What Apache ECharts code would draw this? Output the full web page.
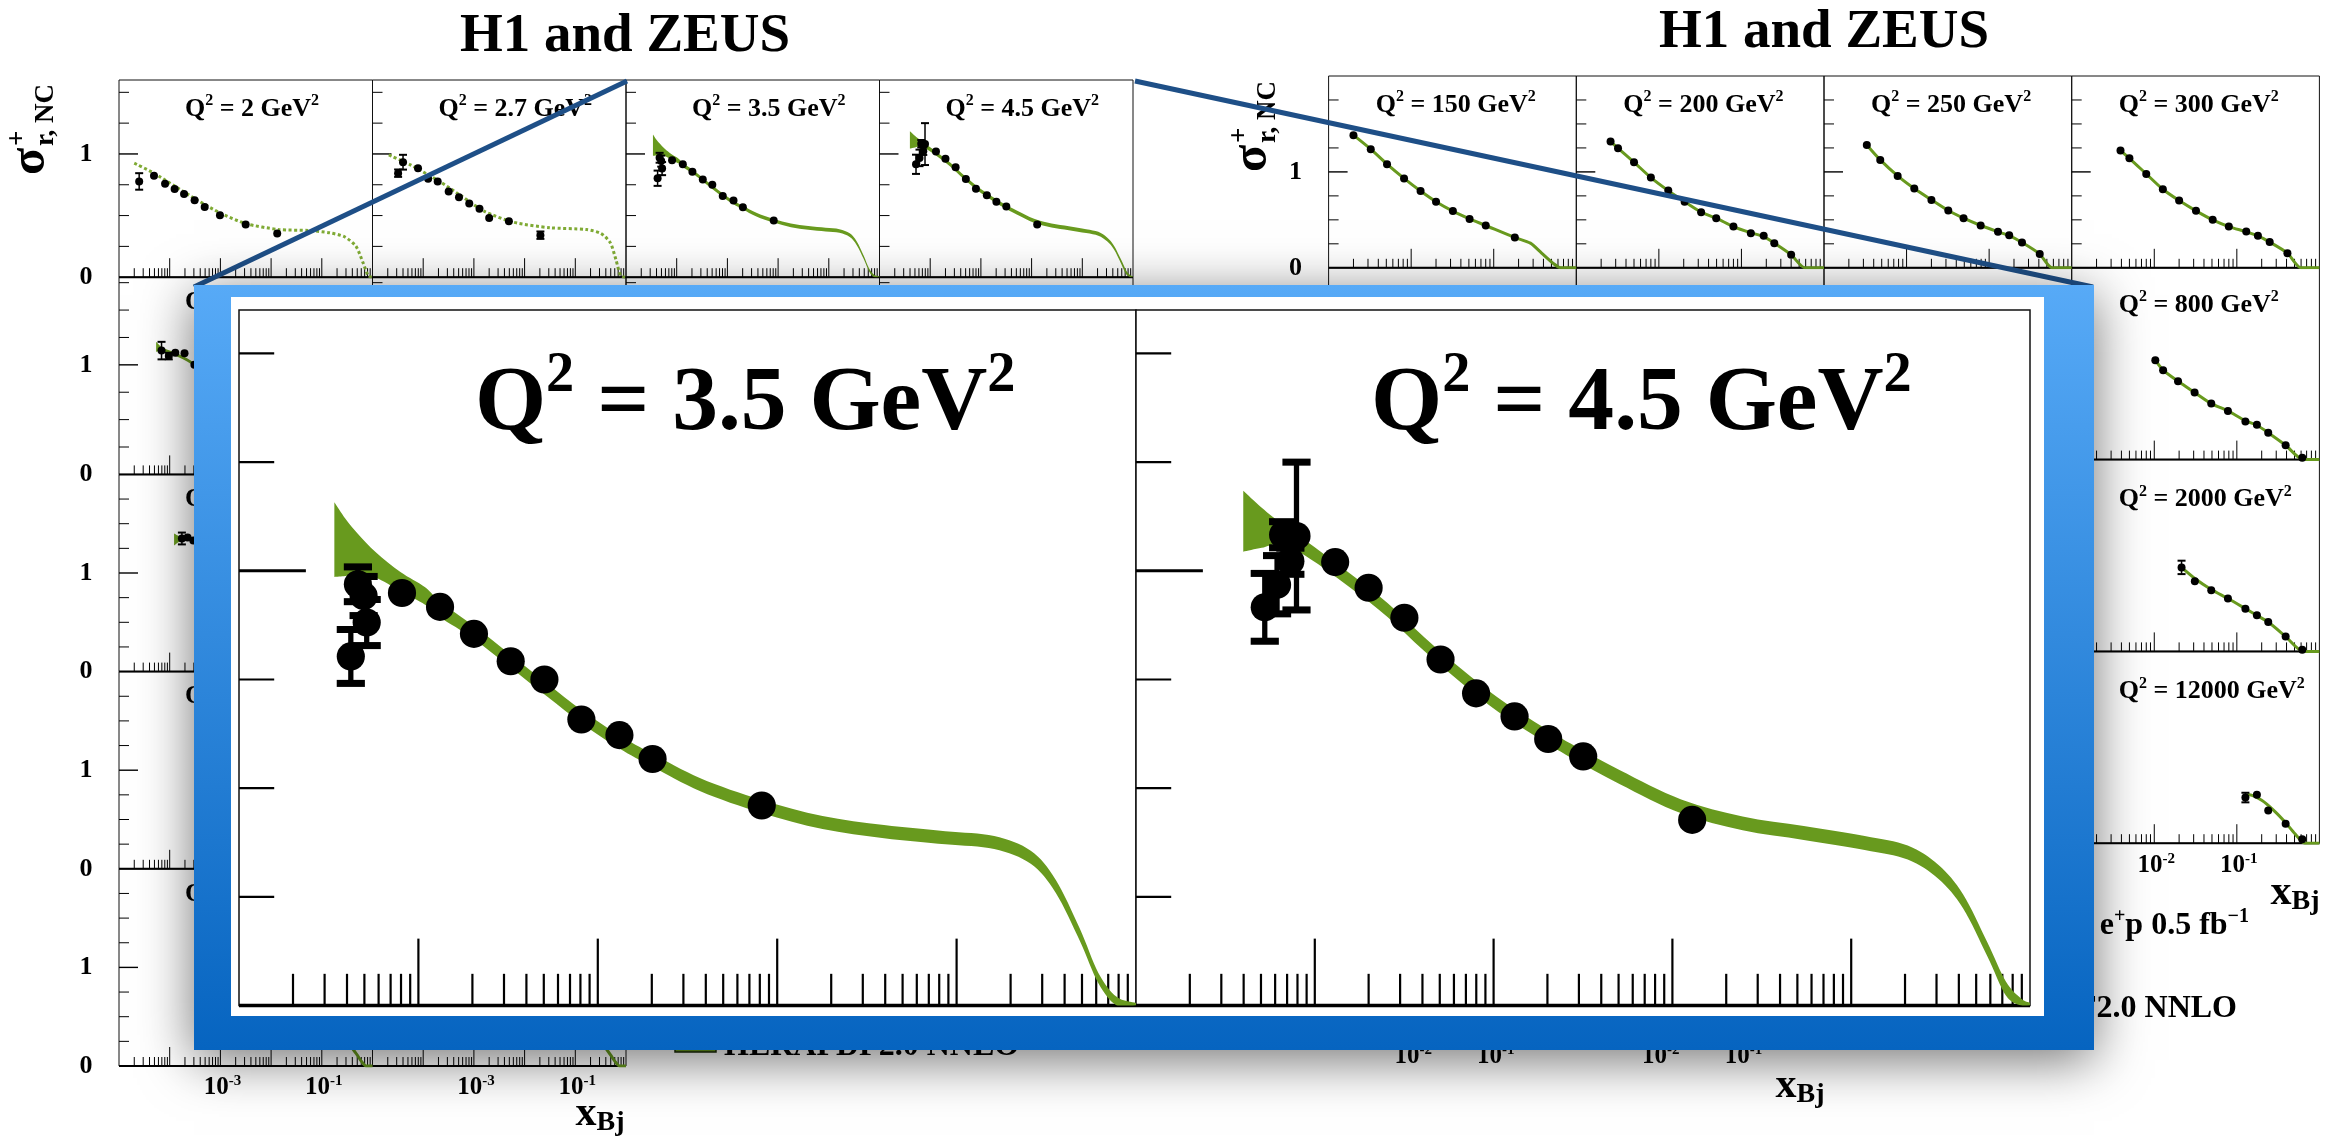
<!DOCTYPE html>
<html>
<head>
<meta charset="utf-8">
<script src="https://cdn.jsdelivr.net/npm/echarts@6/dist/echarts.min.js"></script>
<style>
  html, body { margin: 0; padding: 0; background: #fff; }
  #chart { width: 2332px; height: 1145px; }
</style>
</head>
<body>
<div id="chart"></div>
<script>
// ---------------------------------------------------------------
// Reduced NC e+p cross sections, H1 and ZEUS combined, with the
// HERAPDF2.0 NNLO prediction. Two grids of Q² bins (low / high Q²)
// and an enlarged view of the Q² = 3.5 and 4.5 GeV² bins.
// ---------------------------------------------------------------

// Q² bins (GeV²), row by row, four per row
const lowQ2Bins  = ['2', '2.7', '3.5', '4.5', '6.5', '8.5', '10', '12', '15', '18', '22', '27', '35', '45', '60', '70', '90', '120'];
const highQ2Bins = ['150', '200', '250', '300', '400', '500', '650', '800', '1000', '1200', '1500', '2000', '3000', '5000', '8000', '12000', '20000', '30000'];

// axis ticks and tick labels
const tickMultipliers   = [1, 2, 3, 4, 5, 6, 7, 8, 9];
const lowDecades        = [-5, -4, -3, -2, -1];
const highDecades       = [-3, -2, -1];
const yMinorTickValues  = [0.25, 0.5, 0.75, 1.25, 1.5, 1.75];
const yMajorTickValues  = [1];
const yLabelValues      = [0, 1];
const yLabelTexts       = ['0', '1'];
const lowXLabelValues   = [1e-3, 1e-1];
const lowXLabelExps     = ['-3', '-1'];
const highXLabelValues  = [1e-2, 1e-1];
const highXLabelExps    = ['-2', '-1'];

// ---- low Q² measurements (x_Bj, sigma_r, error) and HERAPDF curves ----
const q2_2_x   = [2.5e-5, 4.9e-5, 8.1e-5, 1.25e-4, 1.92e-4, 3.1e-4, 4.9e-4, 9.8e-4, 3.15e-3, 1.32e-2];
const q2_2_y   = [0.777, 0.823, 0.758, 0.715, 0.675, 0.624, 0.570, 0.503, 0.427, 0.355];
const q2_2_err = [0.067, 0, 0, 0, 0, 0, 0, 0, 0, 0];
const q2_2_fitX = [2.0e-5, 4.9e-5, 1.29e-4, 3.39e-4, 9.8e-4, 3.16e-3, 1.41e-2, 5.4e-2, 0.145, 0.28, 0.47, 0.65, 0.83, 1];
const q2_2_fitY = [0.925, 0.844, 0.736, 0.629, 0.522, 0.435, 0.387, 0.379, 0.360, 0.328, 0.252, 0.118, 0.01, 0];

const q2_2p7_x   = [3.2e-5, 4.0e-5, 7.9e-5, 1.25e-4, 1.93e-4, 3.18e-4, 5.08e-4, 8.1e-4, 1.29e-3, 2.0e-3, 4.9e-3, 2.05e-2];
const q2_2p7_y   = [0.844, 0.933, 0.884, 0.798, 0.777, 0.696, 0.648, 0.597, 0.556, 0.481, 0.454, 0.341];
const q2_2p7_err = [0.03, 0.06, 0, 0, 0, 0, 0, 0, 0, 0, 0, 0.03];
const q2_2p7_fitX = [2.1e-5, 5.6e-5, 2.1e-4, 5.8e-4, 1.6e-3, 6.0e-3, 3.2e-2, 0.166, 0.32, 0.49, 0.63, 0.79, 1];
const q2_2p7_fitY = [0.992, 0.911, 0.777, 0.656, 0.535, 0.446, 0.401, 0.387, 0.355, 0.28, 0.145, 0.01, 0];

const q2_3p5_x   = [4.2e-5, 4.6e-5, 4.95e-5, 5.15e-5, 8.1e-5, 1.32e-4, 2.04e-4, 3.27e-4, 5.04e-4, 8.1e-4, 1.32e-3, 2.02e-3, 8.2e-3];
const q2_3p5_y   = [0.803, 0.969, 0.942, 0.881, 0.949, 0.917, 0.855, 0.792, 0.750, 0.658, 0.622, 0.567, 0.460];
const q2_3p5_err = [0.062, 0.04, 0.045, 0.053, 0, 0, 0, 0, 0, 0, 0, 0, 0];
const q2_3p5_fitX  = [3.40e-5, 3.92e-5, 4.58e-5, 5.81e-5, 7.94e-5, 1.09e-4, 1.32e-4, 2.04e-4, 3.27e-4, 5.24e-4, 8.13e-4, 1.32e-3, 2.02e-3, 3.73e-3, 8.18e-3, 1.79e-2, 3.94e-2, 8.65e-2, 0.162, 0.259, 0.356, 0.486, 0.617, 0.78, 1];
const q2_3p5_fitHi = [1.158, 1.12, 1.086, 1.042, 0.997, 0.962, 0.929, 0.873, 0.807, 0.740, 0.679, 0.621, 0.579, 0.523, 0.473, 0.436, 0.415, 0.401, 0.390, 0.356, 0.290, 0.177, 0.075, 0.02, 0.006];
const q2_3p5_fitLo = [0.986, 0.988, 0.992, 0.984, 0.953, 0.922, 0.893, 0.843, 0.777, 0.710, 0.649, 0.591, 0.549, 0.493, 0.443, 0.406, 0.385, 0.371, 0.360, 0.326, 0.260, 0.149, 0.051, 0.0, 0.0];

const q2_4p5_x   = [5.25e-5, 6.15e-5, 6.65e-5, 7.3e-5, 7.9e-5, 1.3e-4, 2.0e-4, 3.17e-4, 5.05e-4, 7.98e-4, 1.31e-3, 2.02e-3, 3.17e-3, 1.29e-2];
const q2_4p5_y   = [0.916, 0.968, 1.083, 1.022, 1.080, 1.020, 0.961, 0.892, 0.796, 0.718, 0.665, 0.613, 0.573, 0.427];
const q2_4p5_err = [0.078, 0.067, 0.03, 0.03, 0.17, 0, 0, 0, 0, 0, 0, 0, 0, 0];
const q2_4p5_fitX  = [3.98e-5, 5.05e-5, 6.65e-5, 9.86e-5, 1.58e-4, 2.55e-4, 4.08e-4, 6.56e-4, 1.05e-3, 1.69e-3, 2.71e-3, 5.09e-3, 1.12e-2, 2.47e-2, 5.43e-2, 0.119, 0.207, 0.308, 0.422, 0.578, 0.733, 0.891, 1];
const q2_4p5_fitHi = [1.184, 1.145, 1.106, 1.056, 0.993, 0.926, 0.848, 0.775, 0.709, 0.653, 0.602, 0.541, 0.474, 0.435, 0.413, 0.390, 0.368, 0.323, 0.256, 0.145, 0.055, 0.016, 0.006];
const q2_4p5_fitLo = [1.044, 1.053, 1.061, 1.022, 0.961, 0.894, 0.816, 0.743, 0.677, 0.621, 0.570, 0.509, 0.442, 0.403, 0.381, 0.358, 0.336, 0.291, 0.224, 0.113, 0.023, 0.0, 0.0];

const q2_6p5_x   = [6.9e-5, 9.6e-5, 1.29e-4, 1.96e-4, 3.07e-4];
const q2_6p5_y   = [1.13, 1.08, 1.11, 1.106, 1.0];
const q2_6p5_err = [0.08, 0.03, 0, 0, 0];
const q2_6p5_fitX  = [5.4e-5, 7.0e-5, 1.0e-4, 1.5e-4, 2.2e-4, 3.2e-4, 5.0e-4];
const q2_6p5_fitHi = [1.21, 1.16, 1.13, 1.10, 1.06, 1.01, 0.95];
const q2_6p5_fitLo = [1.12, 1.12, 1.10, 1.07, 1.03, 0.98, 0.92];

const q2_15_x   = [1.74e-4, 2.25e-4, 2.92e-4];
const q2_15_y   = [1.35, 1.36, 1.33];
const q2_15_err = [0.06, 0, 0];
const q2_15_fitX  = [1.22e-4, 1.6e-4, 2.2e-4, 3.2e-4, 5.0e-4];
const q2_15_fitHi = [1.40, 1.37, 1.37, 1.35, 1.31];
const q2_15_fitLo = [1.28, 1.32, 1.33, 1.31, 1.27];

const q2_90_fitX  = [0.3, 0.39, 0.5, 0.62, 0.75, 1];
const q2_90_fitY  = [0.27, 0.19, 0.11, 0.04, 0.0, 0];
const q2_120_fitX = [0.3, 0.39, 0.5, 0.62, 0.75, 1];
const q2_120_fitY = [0.27, 0.19, 0.11, 0.04, 0.0, 0];

// ---- high Q² measurements and HERAPDF curves ----
const q2_150_x = [2.0e-3, 3.24e-3, 5.1e-3, 8.2e-3, 1.3e-2, 2.0e-2, 3.2e-2, 5.1e-2, 8.0e-2, 0.18];
const q2_150_y = [1.383, 1.237, 1.081, 0.932, 0.80, 0.689, 0.591, 0.51, 0.441, 0.316];
const q2_150_fitX = [2.0e-3, 3.24e-3, 5.1e-3, 8.2e-3, 1.3e-2, 2.0e-2, 3.2e-2, 5.1e-2, 8.0e-2, 0.18, 0.278, 0.38, 0.52, 0.645, 1];
const q2_150_fitY = [1.383, 1.237, 1.081, 0.932, 0.80, 0.689, 0.591, 0.51, 0.441, 0.316, 0.257, 0.153, 0.049, 0.0, 0];

const q2_200_x = [2.6e-3, 3.2e-3, 5.0e-3, 8.0e-3, 1.3e-2, 2.05e-2, 3.25e-2, 4.95e-2, 8.0e-2, 0.13, 0.186, 0.25, 0.40];
const q2_200_y = [1.316, 1.247, 1.101, 0.941, 0.805, 0.690, 0.58, 0.517, 0.43, 0.361, 0.333, 0.257, 0.135];
const q2_200_fitX = [2.6e-3, 3.2e-3, 5.0e-3, 8.0e-3, 1.3e-2, 2.05e-2, 3.25e-2, 4.95e-2, 8.0e-2, 0.13, 0.186, 0.25, 0.40, 0.59, 1];
const q2_200_fitY = [1.316, 1.247, 1.101, 0.941, 0.805, 0.690, 0.58, 0.517, 0.43, 0.365, 0.325, 0.257, 0.135, 0.0, 0];

const q2_250_x = [3.3e-3, 4.8e-3, 7.8e-3, 1.24e-2, 2.0e-2, 3.2e-2, 4.9e-2, 7.9e-2, 0.128, 0.175, 0.25, 0.41];
const q2_250_y = [1.281, 1.125, 0.958, 0.826, 0.708, 0.597, 0.517, 0.441, 0.375, 0.34, 0.264, 0.143];
const q2_250_fitX = [3.3e-3, 4.8e-3, 7.8e-3, 1.24e-2, 2.0e-2, 3.2e-2, 4.9e-2, 7.9e-2, 0.128, 0.175, 0.25, 0.41, 0.58, 1];
const q2_250_fitY = [1.281, 1.125, 0.958, 0.826, 0.708, 0.597, 0.517, 0.441, 0.375, 0.335, 0.264, 0.143, 0.0, 0];

const q2_300_x = [3.9e-3, 5.0e-3, 8.0e-3, 1.27e-2, 2.0e-2, 3.2e-2, 5.1e-2, 8.0e-2, 0.13, 0.18, 0.25, 0.41];
const q2_300_y = [1.222, 1.142, 0.979, 0.819, 0.701, 0.594, 0.50, 0.43, 0.378, 0.333, 0.268, 0.153];
const q2_300_fitX = [3.9e-3, 5.0e-3, 8.0e-3, 1.27e-2, 2.0e-2, 3.2e-2, 5.1e-2, 8.0e-2, 0.13, 0.18, 0.25, 0.41, 0.60, 1];
const q2_300_fitY = [1.222, 1.142, 0.979, 0.819, 0.701, 0.594, 0.50, 0.43, 0.375, 0.333, 0.268, 0.153, 0.0, 0];

const q2_800_x = [1.03e-2, 1.28e-2, 1.94e-2, 3.08e-2, 4.9e-2, 7.8e-2, 0.127, 0.175, 0.24, 0.39, 0.62];
const q2_800_y = [1.037, 0.933, 0.817, 0.70, 0.584, 0.508, 0.398, 0.363, 0.281, 0.149, 0.018];
const q2_800_fitX = [1.03e-2, 1.28e-2, 1.94e-2, 3.08e-2, 4.9e-2, 7.8e-2, 0.127, 0.175, 0.24, 0.39, 0.64, 1];
const q2_800_fitY = [1.037, 0.933, 0.817, 0.70, 0.584, 0.508, 0.405, 0.358, 0.281, 0.149, 0.0, 0];

const q2_2000_x   = [2.14e-2, 3.1e-2, 4.9e-2, 7.8e-2, 0.127, 0.175, 0.24, 0.39, 0.62];
const q2_2000_y   = [0.876, 0.731, 0.638, 0.551, 0.446, 0.376, 0.306, 0.155, 0.016];
const q2_2000_err = [0.07, 0, 0, 0, 0, 0, 0, 0, 0];
const q2_2000_fitX = [2.14e-2, 3.1e-2, 4.9e-2, 7.8e-2, 0.127, 0.175, 0.24, 0.39, 0.64, 1];
const q2_2000_fitY = [0.876, 0.76, 0.645, 0.551, 0.446, 0.376, 0.306, 0.155, 0.0, 0];

const q2_12000_x   = [0.127, 0.175, 0.24, 0.39, 0.62];
const q2_12000_y   = [0.476, 0.504, 0.342, 0.202, 0.04];
const q2_12000_err = [0.05, 0, 0, 0, 0];
const q2_12000_fitX = [0.127, 0.138, 0.2, 0.29, 0.39, 0.506, 0.668, 1];
const q2_12000_fitY = [0.5, 0.504, 0.447, 0.33, 0.214, 0.098, 0.0, 0];

// bin -> measurement / prediction lookup
const lowBinData = {
  '2':   { x: q2_2_x, y: q2_2_y, err: q2_2_err, fitX: q2_2_fitX, fitY: q2_2_fitY, fit: 'dotted' },
  '2.7': { x: q2_2p7_x, y: q2_2p7_y, err: q2_2p7_err, fitX: q2_2p7_fitX, fitY: q2_2p7_fitY, fit: 'dotted' },
  '3.5': { x: q2_3p5_x, y: q2_3p5_y, err: q2_3p5_err, fitX: q2_3p5_fitX, fitHi: q2_3p5_fitHi, fitLo: q2_3p5_fitLo, fit: 'band' },
  '4.5': { x: q2_4p5_x, y: q2_4p5_y, err: q2_4p5_err, fitX: q2_4p5_fitX, fitHi: q2_4p5_fitHi, fitLo: q2_4p5_fitLo, fit: 'band' },
  '6.5': { x: q2_6p5_x, y: q2_6p5_y, err: q2_6p5_err, fitX: q2_6p5_fitX, fitHi: q2_6p5_fitHi, fitLo: q2_6p5_fitLo, fit: 'band' },
  '15':  { x: q2_15_x, y: q2_15_y, err: q2_15_err, fitX: q2_15_fitX, fitHi: q2_15_fitHi, fitLo: q2_15_fitLo, fit: 'band' },
  '90':  { fitX: q2_90_fitX, fitY: q2_90_fitY, fit: 'line' },
  '120': { fitX: q2_120_fitX, fitY: q2_120_fitY, fit: 'line' }
};
const highBinData = {
  '150':   { x: q2_150_x, y: q2_150_y, fitX: q2_150_fitX, fitY: q2_150_fitY, fit: 'line' },
  '200':   { x: q2_200_x, y: q2_200_y, fitX: q2_200_fitX, fitY: q2_200_fitY, fit: 'line' },
  '250':   { x: q2_250_x, y: q2_250_y, fitX: q2_250_fitX, fitY: q2_250_fitY, fit: 'line' },
  '300':   { x: q2_300_x, y: q2_300_y, fitX: q2_300_fitX, fitY: q2_300_fitY, fit: 'line' },
  '800':   { x: q2_800_x, y: q2_800_y, fitX: q2_800_fitX, fitY: q2_800_fitY, fit: 'line' },
  '2000':  { x: q2_2000_x, y: q2_2000_y, err: q2_2000_err, fitX: q2_2000_fitX, fitY: q2_2000_fitY, fit: 'line' },
  '12000': { x: q2_12000_x, y: q2_12000_y, err: q2_12000_err, fitX: q2_12000_fitX, fitY: q2_12000_fitY, fit: 'line' }
};

// ---------------- layout & style ----------------
const FONT = '"Liberation Serif", "Times New Roman", serif';
const GREEN = '#689A1E';
const GREEN_DOT = '#7FAA34';

const lowLayout  = { left: 119, top: 80, colW: 253.5, rowH: 197.2, xmin: 1e-5, xmax: 1, labelFrac: 0.26, labelDy: [29, 25, 25, 25, 25], rowYMax: [1.6, 1.8, 2.0, 2.0, 2.0] };
const highLayout = { left: 1328.6, top: 76, colW: 247.7, rowH: 191.8, xmin: 1e-3, xmax: 1, labelFrac: 0.19, labelDy: [29, 37, 40, 40, 40], rowYMax: [2.0, 2.0, 2.0, 2.0, 2.0] };

const option = {
  animation: false,
  backgroundColor: '#ffffff',
  grid: [], xAxis: [], yAxis: [], series: [], graphic: []
};

function q2Rich(s) {
  return {
    q: { fontSize: 26 * s, fontWeight: 'bold', fontFamily: FONT, lineHeight: 32 * s, fill: '#000' },
    s: { fontSize: 16 * s, fontWeight: 'bold', fontFamily: FONT, lineHeight: 16 * s, verticalAlign: 'top', fill: '#000' }
  };
}

function frameRenderer(cfg) {
  return function (params, api) {
    const s = cfg.s;
    const lb = api.coord([cfg.xmin, 0]);
    const rt = api.coord([cfg.xmax, cfg.ymax]);
    const xL = lb[0], yB = lb[1], xR = rt[0], yT = rt[1];
    const kids = [];
    const tickStyle = { stroke: '#000', lineWidth: cfg.tickW };
    // log x ticks, pointing up from the bottom axis
    cfg.decades.forEach(function (e) {
      tickMultipliers.forEach(function (m) {
        const v = m * Math.pow(10, e);
        if (v <= cfg.xmin * 1.001) return;
        const px = api.coord([v, 0])[0];
        const len = (m === 1 ? 19 : 9) * s;
        kids.push({ type: 'line', shape: { x1: px, y1: yB, x2: px, y2: yB - len }, style: tickStyle });
      });
    });
    // y ticks on the left edge
    yMinorTickValues.forEach(function (v) {
      if (v >= cfg.ymax) return;
      const py = api.coord([cfg.xmin, v])[1];
      kids.push({ type: 'line', shape: { x1: xL, y1: py, x2: xL + 10 * s, y2: py }, style: tickStyle });
    });
    yMajorTickValues.forEach(function (v) {
      const py = api.coord([cfg.xmin, v])[1];
      kids.push({ type: 'line', shape: { x1: xL, y1: py, x2: xL + 19 * s, y2: py }, style: { stroke: '#000', lineWidth: cfg.tickW * 1.4 } });
    });
    // heavy zero line
    kids.push({ type: 'line', shape: { x1: xL, y1: yB, x2: xR, y2: yB }, style: { stroke: '#000', lineWidth: cfg.baseW } });
    // y tick labels
    if (cfg.yLabels) {
      yLabelValues.forEach(function (v, k) {
        const py = api.coord([cfg.xmin, v])[1];
        kids.push({ type: 'text', x: xL - 33, y: py, style: { text: yLabelTexts[k], font: 'bold 26px ' + FONT, fill: '#000', align: 'center', verticalAlign: 'middle' } });
      });
    }
    // x tick labels (10^n)
    if (cfg.xLabels) {
      cfg.xLabels.values.forEach(function (v, k) {
        const px = api.coord([v, 0])[0];
        kids.push({
          type: 'text', x: px + 2, y: yB + 8,
          style: {
            text: '{b|10}{e|' + cfg.xLabels.exps[k] + '}',
            align: 'center', verticalAlign: 'top',
            rich: {
              b: { fontSize: 25, fontWeight: 'bold', fontFamily: FONT, lineHeight: 28, fill: '#000' },
              e: { fontSize: 15, fontWeight: 'bold', fontFamily: FONT, lineHeight: 15, verticalAlign: 'top', fill: '#000' }
            }
          }
        });
      });
    }
    // Q² label
    kids.push({
      type: 'text', x: xL + cfg.labelFrac * (xR - xL), y: yT + cfg.labelDy * s,
      style: {
        text: '{q|Q}{s|2}{q| = ' + cfg.q2 + ' GeV}{s|2}',
        align: 'left', verticalAlign: 'middle', rich: q2Rich(s)
      }
    });
    return { type: 'group', children: kids };
  };
}

// Catmull-Rom spline through pixel points, written as cubic Bezier segments
function splineSegments(pts) {
  let d = '';
  const n = pts.length;
  for (let i = 0; i < n - 1; i++) {
    const p0 = pts[Math.max(i - 1, 0)], p1 = pts[i], p2 = pts[i + 1], p3 = pts[Math.min(i + 2, n - 1)];
    const c1x = p1[0] + (p2[0] - p0[0]) / 6, c1y = p1[1] + (p2[1] - p0[1]) / 6;
    const c2x = p2[0] - (p3[0] - p1[0]) / 6, c2y = p2[1] - (p3[1] - p1[1]) / 6;
    d += ' C' + c1x.toFixed(2) + ',' + c1y.toFixed(2) + ' ' + c2x.toFixed(2) + ',' + c2y.toFixed(2) + ' ' + p2[0].toFixed(2) + ',' + p2[1].toFixed(2);
  }
  return d;
}

function bandRenderer(fx, hi, lo) {
  return function (params, api) {
    const upper = [], lower = [];
    for (let i = 0; i < fx.length; i++) upper.push(api.coord([fx[i], hi[i]]));
    for (let i = fx.length - 1; i >= 0; i--) lower.push(api.coord([fx[i], lo[i]]));
    const d = 'M' + upper[0][0].toFixed(2) + ',' + upper[0][1].toFixed(2) + splineSegments(upper) +
              ' L' + lower[0][0].toFixed(2) + ',' + lower[0][1].toFixed(2) + splineSegments(lower) + ' Z';
    return { type: 'path', shape: { pathData: d }, style: { fill: GREEN } };
  };
}

function errorRenderer(s) {
  return function (params, api) {
    const x = api.value(0), y = api.value(1), e = api.value(2);
    if (!e) return null;
    const top = api.coord([x, y + e]);
    const bot = api.coord([x, y - e]);
    const w = 4 * s;
    return {
      type: 'group', children: [
        { type: 'line', shape: { x1: top[0], y1: top[1], x2: bot[0], y2: bot[1] }, style: { stroke: '#000', lineWidth: 1.5 * s } },
        { type: 'line', shape: { x1: top[0] - w, y1: top[1], x2: top[0] + w, y2: top[1] }, style: { stroke: '#000', lineWidth: 2 * s } },
        { type: 'line', shape: { x1: bot[0] - w, y1: bot[1], x2: bot[0] + w, y2: bot[1] }, style: { stroke: '#000', lineWidth: 2 * s } }
      ]
    };
  };
}

function addPanel(cfg) {
  const gi = option.grid.length;
  const z = cfg.z;
  option.grid.push({
    left: cfg.left, top: cfg.top, width: cfg.width, height: cfg.height,
    show: true, borderColor: '#111', borderWidth: cfg.borderW,
    backgroundColor: cfg.inset ? '#fff' : 'transparent', z: z
  });
  option.xAxis.push({ type: 'log', logBase: 10, gridIndex: gi, min: cfg.xmin, max: cfg.xmax, show: false });
  option.yAxis.push({ type: 'value', gridIndex: gi, min: 0, max: cfg.ymax, show: false });

  option.series.push({
    type: 'custom', coordinateSystem: 'cartesian2d', xAxisIndex: gi, yAxisIndex: gi,
    z: z + 1, clip: false, silent: true, data: [[cfg.xmax, cfg.ymax]],
    renderItem: frameRenderer(cfg)
  });

  const d = cfg.data;
  if (!d) return;
  if (d.fit === 'band') {
    option.series.push({
      type: 'custom', coordinateSystem: 'cartesian2d', xAxisIndex: gi, yAxisIndex: gi,
      z: z + 2, clip: true, silent: true, data: [[d.fitX[0], d.fitHi[0]]],
      renderItem: bandRenderer(d.fitX, d.fitHi, d.fitLo)
    });
  } else {
    option.series.push({
      type: 'line', xAxisIndex: gi, yAxisIndex: gi, z: z + 2, silent: true,
      showSymbol: false, smooth: 0.25,
      data: d.fitX.map(function (x, i) { return [x, d.fitY[i]]; }),
      lineStyle: d.fit === 'dotted'
        ? { color: GREEN_DOT, width: 3 * cfg.s, type: [3 * cfg.s, 2.5 * cfg.s] }
        : { color: GREEN, width: 3 * cfg.s }
    });
  }
  if (d.x) {
    if (d.err) {
      option.series.push({
        type: 'custom', coordinateSystem: 'cartesian2d', xAxisIndex: gi, yAxisIndex: gi,
        z: z + 3, clip: false, silent: true,
        data: d.x.map(function (x, i) { return [x, d.y[i], d.err[i]]; }),
        renderItem: errorRenderer(cfg.s)
      });
    }
    option.series.push({
      type: 'scatter', xAxisIndex: gi, yAxisIndex: gi, z: z + 4, silent: true,
      symbol: 'circle', symbolSize: 8 * cfg.s,
      itemStyle: { color: '#000', opacity: 1 },
      data: d.x.map(function (x, i) { return [x, d.y[i]]; })
    });
  }
}

function buildGrid(layout, bins, binData, decades, xLabelValues, xLabelExps) {
  bins.forEach(function (q2, i) {
    const row = Math.floor(i / 4), col = i % 4;
    addPanel({
      left: layout.left + col * layout.colW, top: layout.top + row * layout.rowH,
      width: layout.colW, height: layout.rowH,
      xmin: layout.xmin, xmax: layout.xmax, ymax: layout.rowYMax[row],
      s: 1, z: 2, tickW: 1, baseW: 2, borderW: 1,
      labelFrac: layout.labelFrac, labelDy: layout.labelDy[row], q2: q2, decades: decades,
      yLabels: col === 0,
      xLabels: (i + 4 >= bins.length) ? { values: xLabelValues, exps: xLabelExps } : null,
      data: binData[q2]
    });
  });
}

buildGrid(lowLayout, lowQ2Bins, lowBinData, lowDecades, lowXLabelValues, lowXLabelExps);
buildGrid(highLayout, highQ2Bins, highBinData, highDecades, highXLabelValues, highXLabelExps);

// enlarged Q² = 3.5 and 4.5 GeV² bins
const zoomScale = 3.52;
[['3.5', 239, 897], ['4.5', 1136, 894]].forEach(function (p) {
  addPanel({
    left: p[1], top: 310, width: p[2], height: 695.5,
    xmin: 1e-5, xmax: 1, ymax: 1.6,
    s: zoomScale, z: 60, tickW: 2.2, baseW: 3.5, borderW: 1.5, inset: true,
    labelFrac: 0.263, labelDy: 27, q2: p[0], decades: lowDecades,
    yLabels: false, xLabels: null, data: lowBinData[p[0]]
  });
});

// ---------------- annotations ----------------
function sigmaLabel(x, y) {
  return {
    type: 'group', x: x, y: y, rotation: Math.PI / 2, z: 10,
    children: [
      { type: 'text', x: 0, y: 0, style: { text: 'σ', font: 'bold 50px ' + FONT, fill: '#000', align: 'left', verticalAlign: 'middle' } },
      { type: 'text', x: 29, y: -13, style: { text: '+', font: 'bold 27px ' + FONT, fill: '#000', align: 'left', verticalAlign: 'middle' } },
      { type: 'text', x: 29, y: 15, style: { text: 'r, NC', font: 'bold 27px ' + FONT, fill: '#000', align: 'left', verticalAlign: 'middle' } }
    ]
  };
}
function xbjLabel(x, y) {
  return {
    type: 'text', x: x, y: y, z: 10,
    style: {
      text: '{m|x}{b|Bj}', align: 'center', verticalAlign: 'middle',
      rich: {
        m: { fontSize: 42, fontWeight: 'bold', fontFamily: FONT, lineHeight: 46, fill: '#000' },
        b: { fontSize: 28, fontWeight: 'bold', fontFamily: FONT, lineHeight: 28, verticalAlign: 'bottom', fill: '#000' }
      }
    }
  };
}
function plainText(txt, x, y, size, align, z) {
  return { type: 'text', x: x, y: y, z: z || 10, style: { text: txt, font: 'bold ' + size + 'px ' + FONT, fill: '#000', align: align || 'center', verticalAlign: 'middle' } };
}

option.graphic = [
  plainText('H1 and ZEUS', 625, 37, 55),
  plainText('H1 and ZEUS', 1824, 33, 55),
  sigmaLabel(31, 175),
  sigmaLabel(1253, 172),
  xbjLabel(600, 1114),
  xbjLabel(1800, 1086),
  xbjLabel(2295, 893),
  // legends
  { type: 'rect', z: 10, shape: { x: 675, y: 1043, width: 41, height: 9 }, style: { fill: GREEN, stroke: '#1b2a08', lineWidth: 1.5 } },
  plainText('HERAPDF2.0 NNLO', 724, 1047, 32, 'left'),
  {
    type: 'text', x: 2249, y: 926, z: 10,
    style: {
      text: '{m|e}{s|+}{m|p 0.5 fb}{s|−1}', align: 'right', verticalAlign: 'middle',
      rich: {
        m: { fontSize: 32, fontWeight: 'bold', fontFamily: FONT, lineHeight: 38, fill: '#000' },
        s: { fontSize: 20, fontWeight: 'bold', fontFamily: FONT, lineHeight: 20, verticalAlign: 'top', fill: '#000' }
      }
    }
  },
  plainText('HERAPDF2.0 NNLO', 2237, 1009, 32, 'right'),
  // connectors from the small panels to the enlarged view
  { type: 'line', z: 45, shape: { x1: 194, y1: 287, x2: 627, y2: 81 }, style: { stroke: '#1E4F87', lineWidth: 5 } },
  { type: 'line', z: 45, shape: { x1: 1135, y1: 81, x2: 2093, y2: 287 }, style: { stroke: '#1E4F87', lineWidth: 5 } },
  // picture frame of the enlarged view
  {
    type: 'rect', z: 50, shape: { x: 194, y: 285, width: 1900, height: 765 },
    style: {
      fill: { type: 'linear', x: 0, y: 0, x2: 0, y2: 1, colorStops: [{ offset: 0, color: '#57AAF7' }, { offset: 1, color: '#0664C0' }] },
      shadowBlur: 50, shadowColor: 'rgba(0,0,0,0.55)', shadowOffsetX: 0, shadowOffsetY: 10
    }
  },
  { type: 'rect', z: 51, shape: { x: 231, y: 297, width: 1813, height: 719 }, style: { fill: '#ffffff' } }
];

const chart = echarts.init(document.getElementById('chart'), null, { renderer: 'canvas' });
chart.setOption(option);
</script>
</body>
</html>
